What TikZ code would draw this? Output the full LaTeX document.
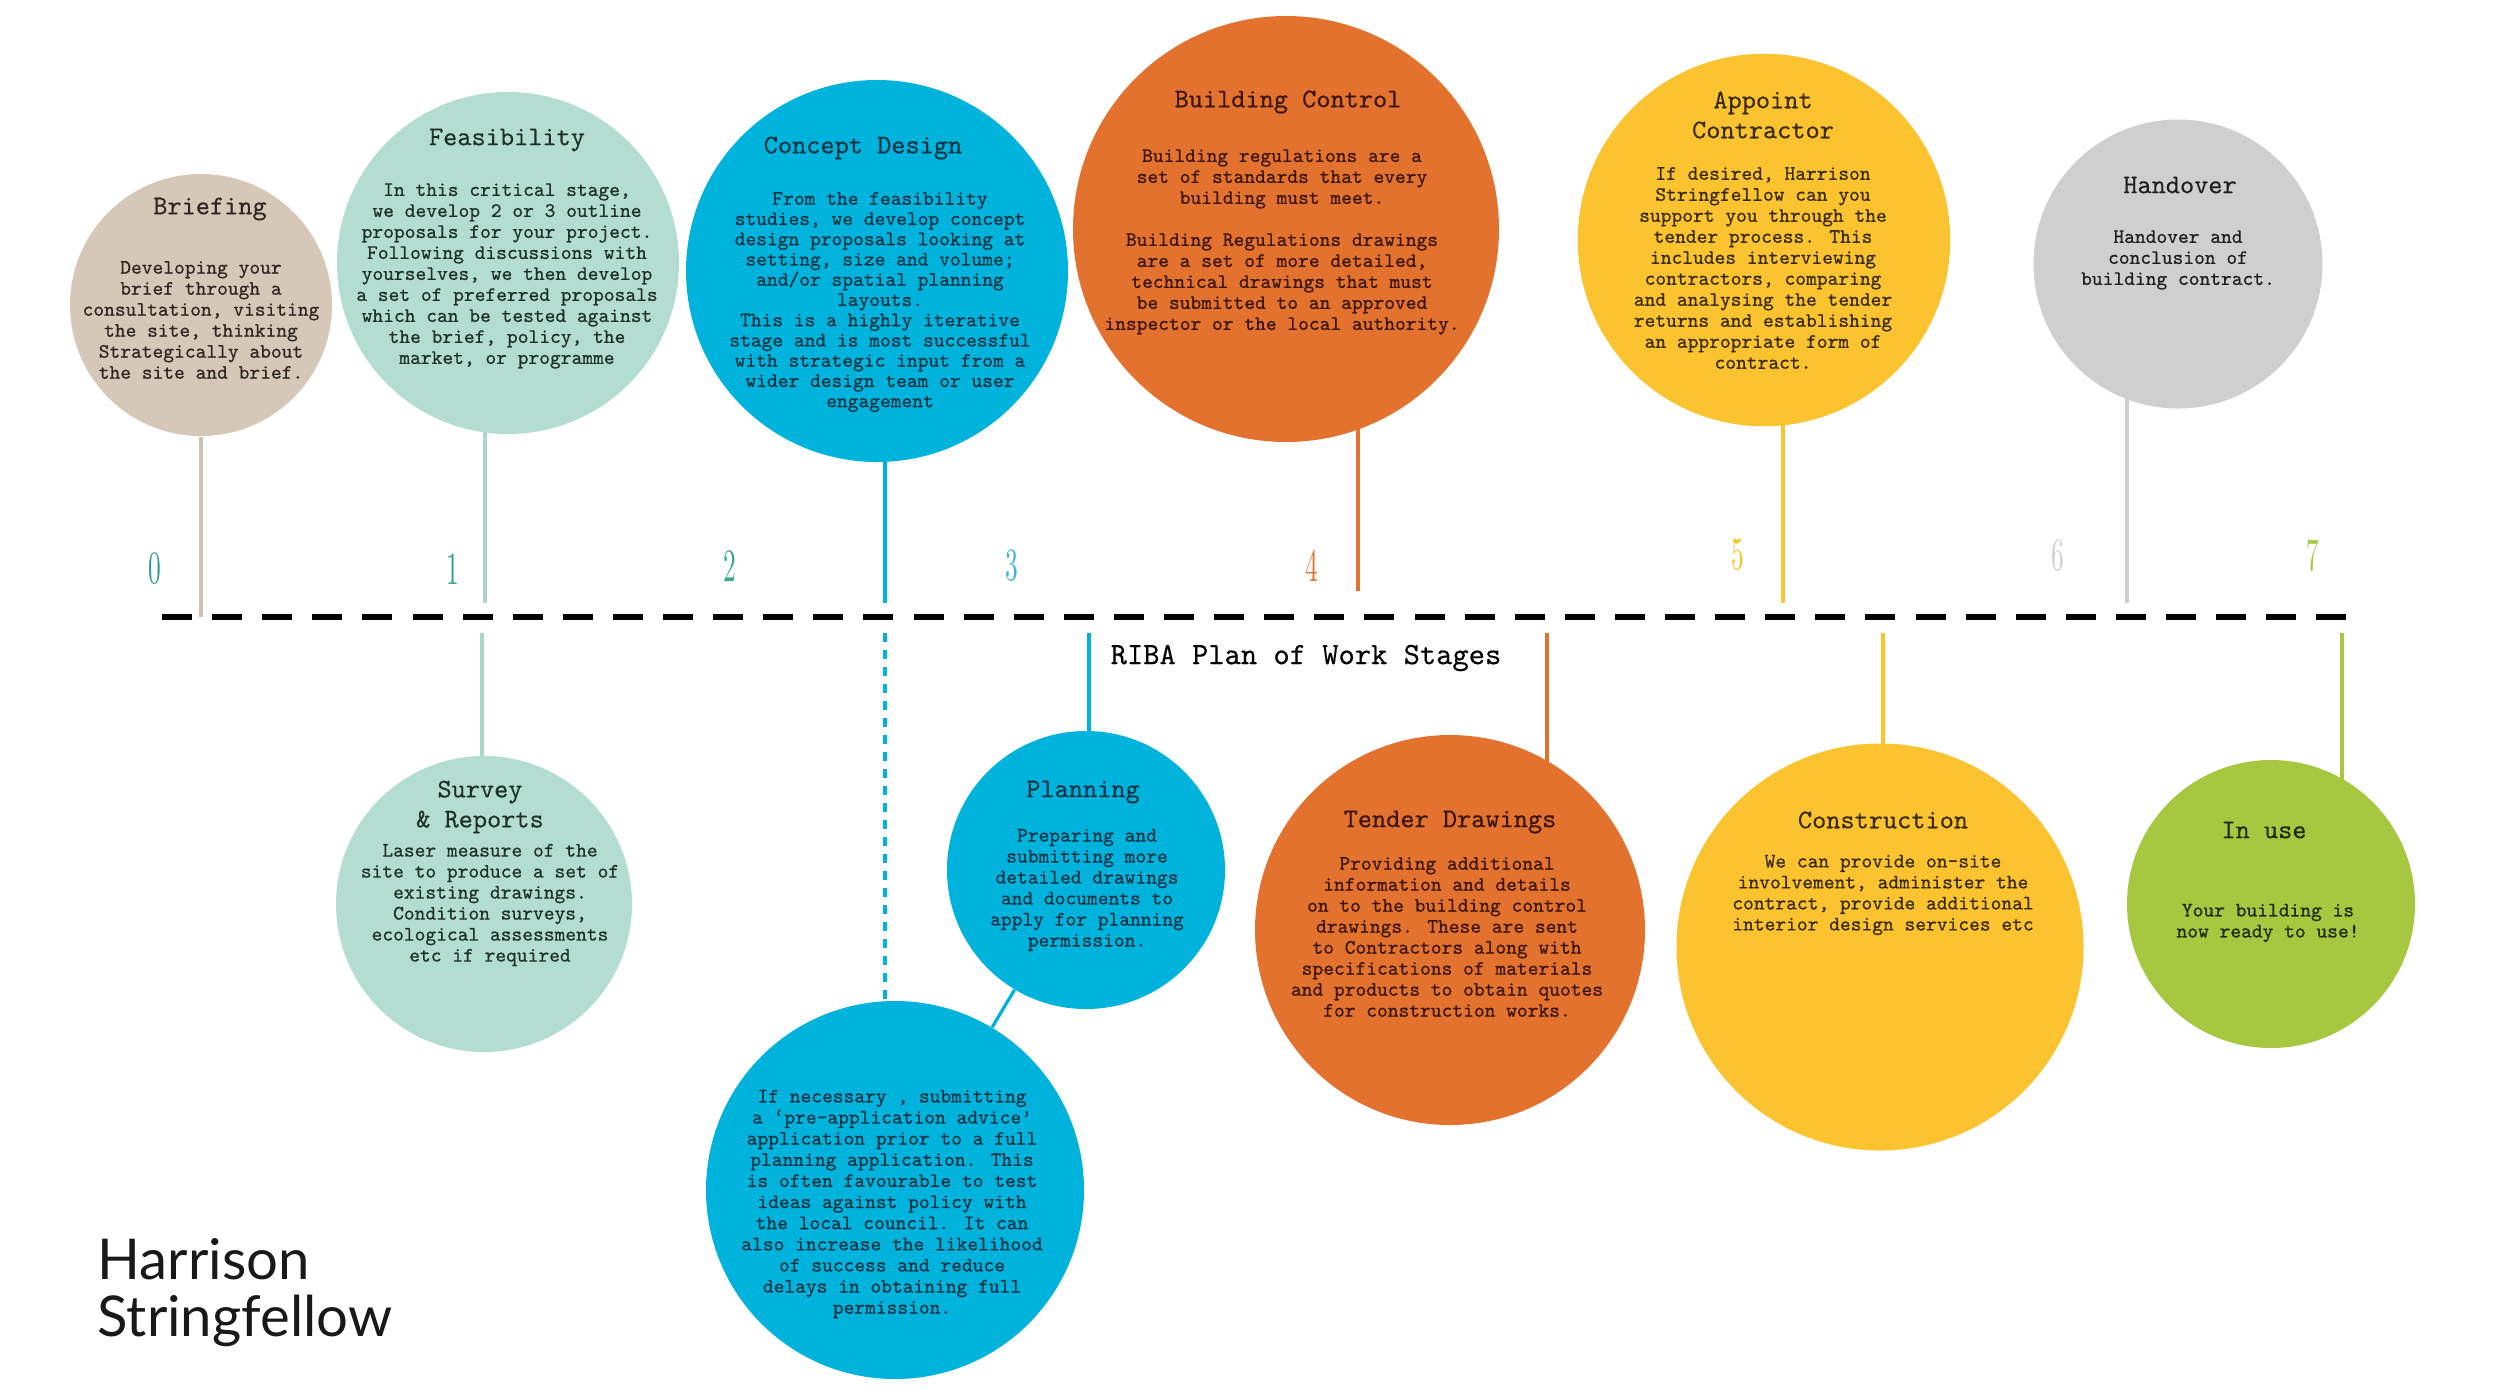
\documentclass[tikz,border=0pt]{standalone}
\usepackage{fontspec}
\usetikzlibrary{backgrounds}
\newfontfamily\tw{lmmono10-regular.otf}[FakeBold=0.6]
\newfontfamily\twt{lmmono10-regular.otf}[FakeBold=0.3]
\newfontfamily\numf{lmroman10-regular.otf}
\newfontfamily\logof{Lato}
\definecolor{cBrief}{HTML}{D5C8B9}
\definecolor{tBrief}{HTML}{2E2620}
\definecolor{lBrief}{HTML}{D0C2B2}
\definecolor{cMint}{HTML}{B3DDD0}
\definecolor{tMint}{HTML}{1E302A}
\definecolor{lMint}{HTML}{A9D7C8}
\definecolor{cBlue}{HTML}{00B3DD}
\definecolor{tBlue}{HTML}{0B3342}
\definecolor{cOra}{HTML}{E4722F}
\definecolor{tOra}{HTML}{3A1505}
\definecolor{cYel}{HTML}{FBC32F}
\definecolor{tYel}{HTML}{382A04}
\definecolor{cGray}{HTML}{CFCFCF}
\definecolor{tGray}{HTML}{1F1F1F}
\definecolor{cGrn}{HTML}{A6C841}
\definecolor{tGrn}{HTML}{1C2A03}
\definecolor{nTeal}{HTML}{2E9E8F}
\definecolor{nTeal2}{HTML}{3BA88A}
\definecolor{nBlue}{HTML}{3DB7D3}
\definecolor{nYel}{HTML}{F5C51A}
\begin{document}
\begin{tikzpicture}[x=0.4pt,y=-0.4pt,
  bub/.style={circle,inner sep=0pt,minimum size=#1},
  ttl/.style={font=\fontsize{10.8}{12}\twt,align=center,inner sep=0pt},
  bdy/.style={font=\fontsize{8.2}{8.4}\tw,align=center,inner sep=0pt},
  conn/.style={line width=1.3pt},
  num/.style={font=\fontsize{18.5}{18.5}\numf,inner sep=0pt}]
\useasboundingbox (0,0) rectangle (2500,1388);
% circles
\node[bub=104.8pt,fill=cBrief] (brief) at (201,305) {};
\node[bub=136.8pt,fill=cMint] (feas) at (508,263) {};
\node[bub=152.8pt,fill=cBlue] (concept) at (877,271) {};
\node[bub=170.4pt,fill=cOra] (bc) at (1286,229) {};
\node[bub=149pt,fill=cYel] (appoint) at (1764,240) {};
\node[bub=115.6pt,fill=cGray] (hand) at (2178,264) {};
\node[bub=118.4pt,fill=cMint] (survey) at (484,904) {};
\node[bub=111.2pt,fill=cBlue] (plan) at (1086,870) {};
\node[bub=151.2pt,fill=cBlue] (preapp) at (895,1190) {};
\node[bub=156pt,fill=cOra] (tender) at (1450,930) {};
\node[bub=162.8pt,fill=cYel] (constr) at (1880,947) {};
\node[bub=115.2pt,fill=cGrn] (inuse) at (2271,904) {};
% timeline coordinates
\coordinate (tlL) at (162,617);
\coordinate (tlR) at (2346,617);
\coordinate (a0) at (201,617);
\coordinate (a1) at (485,603);
\coordinate (a2) at (885,603);
\coordinate (a4) at (1358,591);
\coordinate (a5) at (1783,603);
\coordinate (a6) at (2127,603);
\coordinate (b1) at (482,633);
\coordinate (b2) at (885,633);
\coordinate (b3) at (1089,633);
\coordinate (b4) at (1547,633);
\coordinate (b5) at (1883,633);
\coordinate (b7) at (2342,633);
\begin{scope}[on background layer]
\fill[white] (0,0) rectangle (2500,1388);
\draw[conn,lBrief,line width=1.6pt] (brief) -- (a0);
\draw[conn,lMint] (a1 |- feas) -- (a1);
\draw[conn,lMint] (b1) -- (b1 |- survey);
\draw[conn,cBlue] (a2 |- concept) -- (a2);
\draw[conn,cBlue,dash pattern=on 3.6pt off 3.2pt] (b2) -- (b2 |- preapp);
\draw[conn,cBlue] (b3) -- (b3 |- plan);
\draw[conn,cBlue] (plan) -- (preapp);
\draw[conn,cOra] (a4 |- bc) -- (a4);
\draw[conn,cOra] (b4) -- (b4 |- tender);
\draw[conn,cYel] (a5 |- appoint) -- (a5);
\draw[conn,cYel] (b5) -- (b5 |- constr);
\draw[conn,cGray] (a6 |- hand) -- (a6);
\draw[conn,cGrn] (b7) -- (b7 |- inuse);
\end{scope}
\draw[line width=2.4pt,dash pattern=on 12pt off 8.04pt] (tlL) -- (tlR);
% stage numbers
\node[num,text=nTeal] (s0) at (155,569) {\scalebox{0.55}[1]{0}};
\node[num,text=nTeal] (s1) at (453,569) {\scalebox{0.55}[1]{1}};
\node[num,text=nTeal2] (s2) at (730,566) {\scalebox{0.55}[1]{2}};
\node[num,text=nBlue] (s3) at (1012,566) {\scalebox{0.55}[1]{3}};
\node[num,text=cOra] (s4) at (1312,566) {\scalebox{0.55}[1]{4}};
\node[num,text=nYel] (s5) at (1738,555) {\scalebox{0.55}[1]{5}};
\node[num,text=cGray] (s6) at (2058,556) {\scalebox{0.55}[1]{6}};
\node[num,text=cGrn] (s7) at (2313,555) {\scalebox{0.55}[1]{7}};
\node[font=\fontsize{12.4}{13}\twt,inner sep=0pt] (riba) at (1306,658) {RIBA Plan of Work Stages};
% texts
\node[ttl,text=tBrief] (briefT) at (210,209) {Briefing};
\node[bdy,text=tBrief] (briefB) at (201,320) {Developing your\\brief through a\\consultation, visiting\\the site, thinking\\Strategically about\\the site and brief.};
\node[ttl,text=tMint] (feasT) at (507,140) {Feasibility};
\node[bdy,text=tMint] (feasB) at (507,276) {In this critical stage,\\we develop 2 or 3 outline\\proposals for your project.\\Following discussions with\\yourselves, we then develop\\a set of preferred proposals\\which can be tested against\\the brief, policy, the\\market, or programme};
\node[ttl,text=tBlue] (conceptT) at (863,148) {Concept Design};
\node[bdy,text=tBlue,font=\fontsize{8.2}{8.1}\tw] (conceptB) at (880,302) {From the feasibility\\studies, we develop concept\\design proposals looking at\\setting, size and volume;\\and/or spatial planning\\layouts.\\This is a highly iterative\\stage and is most successful\\with strategic input from a\\wider design team or user\\engagement};
\node[ttl,text=tOra] (bcT) at (1288,102) {Building Control};
\node[bdy,text=tOra] (bcB) at (1282,242) {Building regulations are a\\set of standards that every\\building must meet.\\[8.4pt]Building Regulations drawings\\are a set of more detailed,\\technical drawings that must\\be submitted to an approved\\inspector or the local authority.};
\node[ttl,text=tYel] (appointT) at (1763,115) {Appoint\\Contractor};
\node[bdy,text=tYel] (appointB) at (1763,268) {If desired, Harrison\\Stringfellow can you\\support you through the\\tender process. This\\includes interviewing\\contractors, comparing\\and analysing the tender\\returns and establishing\\an appropriate form of\\contract.};
\node[ttl,text=tGray] (handT) at (2180,185) {Handover};
\node[bdy,text=tGray] (handB) at (2178,260) {Handover and\\conclusion of\\building contract.};
\node[ttl,text=tMint] (surveyT) at (480,807) {Survey\\\& Reports};
\node[bdy,text=tMint] (surveyB) at (490,905) {Laser measure of the\\site to produce a set of\\existing drawings.\\Condition surveys,\\ecological assessments\\etc if required};
\node[ttl,text=tBlue] (planT) at (1083,792) {Planning};
\node[bdy,text=tBlue] (planB) at (1087,890) {Preparing and\\submitting more\\detailed drawings\\and documents to\\apply for planning\\permission.};
\node[bdy,text=tBlue,font=\fontsize{8.2}{8.45}\tw] (preappB) at (892,1204) {If necessary , submitting\\a ‘pre-application advice’\\application prior to a full\\planning application. This\\is often favourable to test\\ideas against policy with\\the local council. It can\\also increase the likelihood\\of success and reduce\\delays in obtaining full\\permission.};
\node[ttl,text=tOra] (tenderT) at (1450,822) {Tender Drawings};
\node[bdy,text=tOra] (tenderB) at (1447,937) {Providing additional\\information and details\\on to the building control\\drawings. These are sent\\to Contractors along with\\specifications of materials\\and products to obtain quotes\\for construction works.};
\node[ttl,text=tYel] (constrT) at (1883,820) {Construction};
\node[bdy,text=tYel] (constrB) at (1883,895) {We can provide on-site\\involvement, administer the\\contract, provide additional\\interior design services etc};
\node[ttl,text=tGrn] (inuseT) at (2264,830) {In use};
\node[bdy,text=tGrn] (inuseB) at (2268,923) {Your building is\\now ready to use!};
% logo
\node[font=\fontsize{22.5}{22.6}\logof,text=black!90,align=left,anchor=base west,inner sep=0pt] (logo) at (97,1336) {Harrison\\Stringfellow};
\end{tikzpicture}
\end{document}
